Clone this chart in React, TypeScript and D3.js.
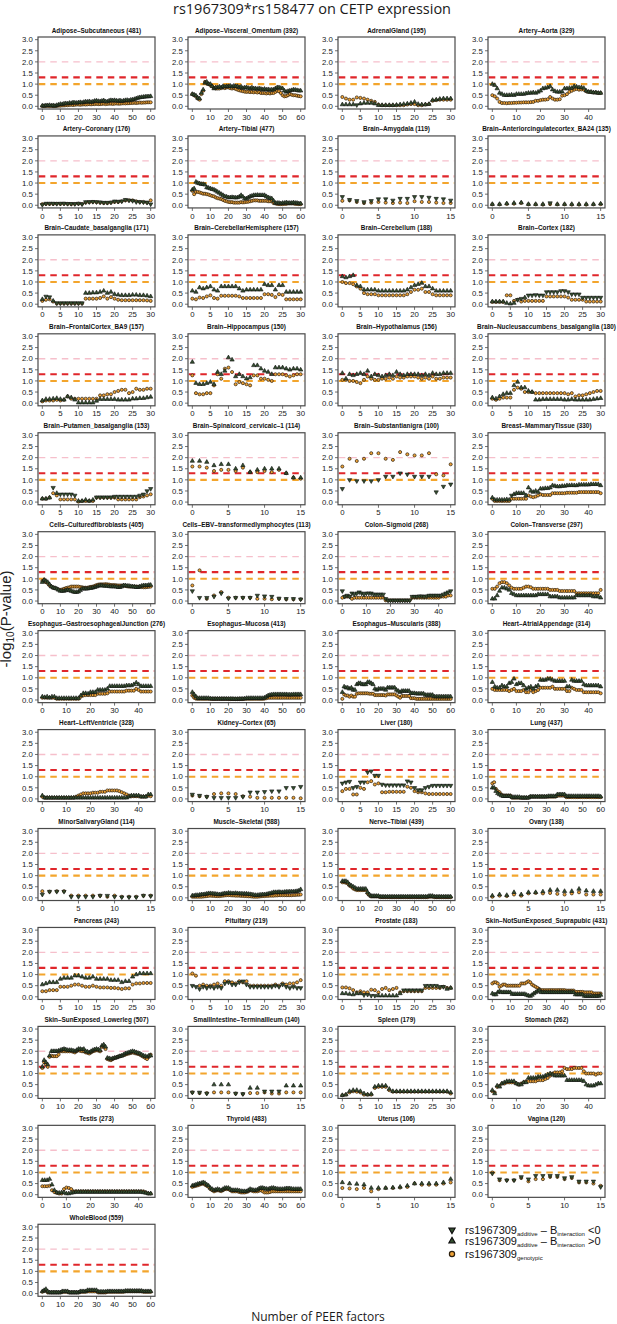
import React from "react";
import * as d3 from "d3";

// -log10(P) values in hundredths. Additive series: the sign gives the sign of B_interaction
// (negative -> downward triangle, positive -> upward triangle); plotted height is |value|.
const tissueNames = [
  "Adipose–Subcutaneous", "Adipose–Visceral_Omentum", "AdrenalGland", "Artery–Aorta",
  "Artery–Coronary", "Artery–Tibial", "Brain–Amygdala", "Brain–Anteriorcingulatecortex_BA24",
  "Brain–Caudate_basalganglia", "Brain–CerebellarHemisphere", "Brain–Cerebellum", "Brain–Cortex",
  "Brain–FrontalCortex_BA9", "Brain–Hippocampus", "Brain–Hypothalamus", "Brain–Nucleusaccumbens_basalganglia",
  "Brain–Putamen_basalganglia", "Brain–Spinalcord_cervicalc–1", "Brain–Substantianigra", "Breast–MammaryTissue",
  "Cells–Culturedfibroblasts", "Cells–EBV–transformedlymphocytes", "Colon–Sigmoid", "Colon–Transverse",
  "Esophagus–GastroesophagealJunction", "Esophagus–Mucosa", "Esophagus–Muscularis", "Heart–AtrialAppendage",
  "Heart–LeftVentricle", "Kidney–Cortex", "Liver", "Lung",
  "MinorSalivaryGland", "Muscle–Skeletal", "Nerve–Tibial", "Ovary",
  "Pancreas", "Pituitary", "Prostate", "Skin–NotSunExposed_Suprapubic",
  "Skin–SunExposed_Lowerleg", "SmallIntestine–TerminalIleum", "Spleen", "Stomach",
  "Testis", "Thyroid", "Uterus", "Vagina",
  "WholeBlood",
];
const sampleSizes = [
  481, 392, 195, 329, 176, 477, 119, 135, 171, 157, 188, 182, 157, 150, 156, 180,
  153, 114, 100, 330, 405, 113, 268, 297, 276, 413, 388, 314, 328, 65, 180, 437,
  114, 588, 439, 138, 243, 219, 183, 431, 507, 140, 179, 262, 273, 483, 106, 120, 559,
];
const peerMax = [
  60, 60, 30, 45, 30, 60, 15, 15, 30, 30, 30, 30, 30, 30, 30, 30,
  30, 15, 15, 45, 60, 15, 45, 45, 45, 60, 60, 45, 45, 15, 30, 60,
  15, 60, 60, 15, 30, 30, 30, 60, 60, 15, 30, 45, 45, 60, 15, 15, 60,
];
const xTicks15 = [0, 5, 10, 15];
const xTicks30 = [0, 5, 10, 15, 20, 25, 30];
const xTicks45 = [0, 10, 20, 30, 40];
const xTicks60 = [0, 10, 20, 30, 40, 50, 60];
const yTickValues = [0, 0.5, 1, 1.5, 2, 2.5, 3];
const yTickLabels = ["0.0", "0.5", "1.0", "1.5", "2.0", "2.5", "3.0"];
const thresholdValues = [2, 1.301, 1];

const adiposeSubcutaneousAdd = [3,2,4,4,5,3,4,2,5,7, 10,9,12,13,12,15,14,17,16,15, 17,18,16,19,21,20,22,19,21,24, 25,23,22,24,26,22,21,25,27,26, 27,25,24,26,23,25,27,28,26,29, 30,32,35,38,40,41,42,43,44,44, 45];
const adiposeSubcutaneousGen = [1,1,2,2,1,2,1,1,2,3, 3,4,4,5,5,6,7,6,7,8, 8,7,8,9,8,9,10,9,10,10, 11,10,10,11,12,10,11,12,12,11, 12,13,12,12,13,14,13,14,14,15, 15,16,15,16,17,16,17,17,18,18, 18];
const adiposeVisceralAdd = [55,52,48,38,35,60,75,105,110,100, 100,90,80,85,85,88,85,90,88,90, 90,92,88,92,90,90,85,88,82,84, 85,82,80,84,80,80,78,80,78,76, 78,75,76,74,75,75,80,85,85,82, 80,70,65,68,70,72,75,74,72,70, 70];
const adiposeVisceralGen = [55,50,45,35,30,55,70,110,105,100, 95,90,82,80,80,80,82,85,82,85, 85,82,80,82,78,75,72,70,68,66, 65,66,64,65,63,65,62,64,60,60, 60,58,60,58,60,60,65,70,68,60, 50,45,46,50,55,52,50,50,48,46, 45];
const adrenalGlandAdd = [8,8,8,8,-6,12,15,15,15,12, 5,5,5,5,5,6,8,10,12,15, 20,10,8,8,10,28,30,33,35,35, 35];
const adrenalGlandGen = [42,35,30,30,40,38,35,30,25,20, 8,5,5,5,5,5,5,5,8,10, 10,5,5,8,10,25,28,30,30,30, 30];
const arteryAortaAdd = [100,95,80,60,55,50,50,50,52,50, 55,55,55,55,58,60,60,62,60,65, 70,80,82,85,90,75,68,65,65,66, 80,80,82,82,90,88,85,85,82,70, 65,65,62,62,60,60];
const arteryAortaGen = [50,45,35,20,15,15,14,15,15,16, 16,17,17,18,18,18,19,20,25,25, 28,30,30,32,42,35,30,30,32,48, 50,55,65,70,75,78,75,76,75,68, 65,64,62,62,60,60];
const arteryCoronaryAdd = [-2,-8,-8,-8,-7,-8,-8,-7,-7,-6, -8,-5,-15,-15,-16,-15,-14,-12,-12,-13, -18,-17,-18,-25,-22,-20,-15,-15,-14,-12, -5];
const arteryCoronaryGen = [5,6,6,6,7,6,7,6,5,6, 7,6,12,14,15,14,12,10,10,12, 15,15,18,22,22,22,18,15,15,12, 22];
const arteryTibialAdd = [70,75,105,100,98,95,95,92,80,78, 75,72,70,65,60,55,50,45,40,38, 35,35,36,35,34,35,38,45,38,30, 30,35,40,42,45,45,46,45,45,45, 45,40,35,32,30,20,10,10,10,8, 10,10,12,10,10,10,12,10,10,8, 8];
const arteryTibialGen = [65,50,60,60,58,55,52,52,50,48, 45,42,40,35,32,30,28,24,20,18, 15,14,14,12,12,12,12,14,13,14, 15,16,18,20,22,22,22,20,20,20, 20,20,18,18,18,10,8,6,5,5, 5,6,6,8,8,8,8,6,6,5, 5];
const brainAmygdalaAdd = [-38,-25,-20,-15,-20,-28,-28,-22,-30,-30, -38,-38,-35,-30,-28,-22];
const brainAmygdalaGen = [20,22,15,10,12,15,12,10,12,10, 18,15,15,12,10,10];
const brainAnteriorCingulateAdd = [5,5,8,10,12,5,5,5,-10,5, 5,5,5,5,5,7];
const brainAnteriorCingulateGen = [4,4,6,7,10,4,4,3,5,4, 4,3,3,3,4,5];
const brainCaudateAdd = [22,-35,-32,15,-5,-5,-5,-5,-5,-5, -5,-5,50,50,52,52,55,60,50,55, 45,42,40,40,40,42,42,40,40,38, 35];
const brainCaudateGen = [15,20,22,12,3,3,3,3,3,3, 3,3,25,25,25,25,28,35,25,32, 25,20,18,18,18,18,18,18,18,17, 15];
const brainCerebellarHemAdd = [60,55,75,70,75,80,65,60,80,80, 80,80,80,70,60,65,65,65,65,65, 90,85,85,65,85,85,55,55,55,55, 55];
const brainCerebellarHemGen = [25,22,30,28,35,40,28,25,38,38, 38,38,38,35,28,28,28,28,28,28, 45,45,42,32,45,42,22,22,22,22, 22];
const brainCerebellumAdd = [125,120,125,130,85,80,65,65,65,65, 60,60,60,60,60,60,60,60,65,75, 85,90,95,80,80,70,60,60,60,60, 60];
const brainCerebellumGen = [100,95,95,90,80,70,50,45,45,45, 40,40,40,40,40,40,40,40,45,55, 65,65,70,55,55,45,40,40,40,40, 40];
const brainCortexAdd = [12,12,12,12,5,2,5,-20,-25,30, -40,-40,-42,-40,-40,-55,-55,-55,-55,-60, -60,-55,-45,-45,-45,-30,-30,-30,-30,-30, -30];
const brainCortexGen = [10,10,10,10,40,40,15,20,12,15, 15,15,15,15,15,35,35,35,35,35, 35,30,20,20,20,20,12,12,12,12, 12];
const brainFrontalCortexAdd = [12,18,18,20,22,18,15,30,25,15, 2,2,2,2,2,10,18,18,18,18, 18,15,15,15,15,20,20,22,22,25, 28];
const brainFrontalCortexGen = [8,12,12,12,15,12,15,30,20,20, 20,20,20,20,20,20,35,35,40,40, 50,55,60,60,45,50,65,60,60,65, 65];
const brainHippocampusAdd = [185,90,85,85,90,95,85,140,130,145, 205,195,120,130,120,110,115,170,170,155, 145,140,130,160,160,160,155,150,155,155, 150];
const brainHippocampusGen = [125,45,40,40,45,45,80,130,110,155, 160,140,85,95,90,85,80,125,125,110, 110,105,100,130,130,130,125,120,125,130, 130];
const brainHypothalamusAdd = [135,110,130,125,130,135,130,145,120,130, 125,120,125,130,125,140,130,125,130,130, 130,130,125,130,125,135,130,130,135,135, 135];
const brainHypothalamusGen = [105,105,100,100,95,90,105,120,110,105, 105,110,110,115,110,120,115,115,120,120, 120,115,110,115,110,120,110,110,115,115, 115];
const brainNucleusAccumbensAdd = [25,20,30,40,45,45,80,95,70,70, 55,50,15,15,18,18,18,18,18,18, 15,15,18,15,15,15,15,15,18,20, 22];
const brainNucleusAccumbensGen = [20,15,20,25,25,25,60,70,65,50, 50,50,45,45,45,45,45,45,45,45, 45,40,45,30,35,35,40,45,50,55, 55];
const brainPutamenAdd = [15,15,20,-65,40,-35,-35,-35,-35,-30, 5,5,10,5,10,-22,-22,-22,-22,-22, -25,-25,-25,-25,-25,-25,-25,-30,-35,-50, -60];
const brainPutamenGen = [15,15,20,40,30,12,12,12,12,12, 2,5,5,5,5,20,20,20,20,20, 20,12,12,12,12,12,12,22,25,30, 35];
const brainSpinalcordAdd = [185,185,180,165,170,170,150,165,135,145, 150,150,150,130,110,110];
const brainSpinalcordGen = [160,160,155,140,145,145,140,155,135,135, 140,135,145,130,110,105];
const brainSubstantianigraAdd = [-60,-100,-95,-95,-95,-100,-115,-115,-130,-125, -115,-115,-115,-45,-70,-80];
const brainSubstantianigraGen = [160,195,185,195,220,220,195,190,225,215, 210,210,220,125,120,170];
const breastMammaryAdd = [20,10,10,10,10,10,12,10,-30,35, 40,40,40,40,30,65,50,45,50,45, 60,60,62,62,65,75,72,70,70,72, 72,75,75,76,75,75,78,78,78,78, 78,80,80,80,80,75];
const breastMammaryGen = [15,5,5,5,5,5,5,5,15,15, 15,15,15,15,15,30,25,22,25,30, 35,32,32,32,32,40,40,40,40,40, 40,42,42,42,42,42,45,45,45,45, 45,45,45,45,45,40];
const cellsFibroblastsAdd = [85,95,90,85,75,65,60,58,55,50, 45,45,45,48,50,48,45,42,40,40, 42,48,55,55,55,55,58,58,60,62, 65,68,70,70,68,68,68,66,65,65, 65,64,62,62,65,70,70,68,68,66, 65,64,62,62,65,68,70,70,70,72, 72];
const cellsFibroblastsGen = [90,95,85,80,70,65,60,58,55,52, 50,52,55,58,60,62,65,65,65,65, 65,63,62,60,60,60,62,64,65,68, 72,74,75,75,75,76,75,74,72,72, 72,71,70,70,70,70,68,66,65,65, 65,65,65,64,64,63,62,62,63,64, 65];
const cellsEBVAdd = [-45,-15,-15,-20,-35,-12,-15,-15,-15,-25, -22,-20,-12,-10,-10,-8];
const cellsEBVGen = [70,138,10,25,40,15,15,15,15,10, 10,8,10,8,8,8];
const colonSigmoidAdd = [-45,-20,-25,-20,-35,-30,-35,-40,-35,-30, -35,-35,-35,-30,-30,-30,-30,-30,-10,-3, -3,-3,-3,-3,-3,-3,-3,-3,-3,-20, -20,-20,-22,-22,-20,-22,-25,-25,-25,-25, -25,-25,-30,-35,-40,-45];
const colonSigmoidGen = [15,20,20,20,10,15,15,15,15,15, 15,15,15,15,15,15,15,15,3,3, 3,3,3,3,3,3,3,3,3,15, 15,15,15,15,15,15,15,15,15,15, 15,20,20,20,25,25];
const colonTransverseAdd = [10,10,25,45,60,60,55,50,35,30, 25,25,25,25,25,25,25,25,25,30, 30,30,30,30,20,20,20,20,15,15, 15,15,15,15,15,25,25,25,25,25, 25,25,20,20,20,15];
const colonTransverseGen = [55,55,65,80,85,85,80,70,60,55, 55,55,55,60,65,65,62,55,55,55, 55,55,55,55,50,50,50,50,45,45, 45,45,45,45,45,35,35,35,35,35, 35,35,35,35,35,50];
const esophagusGEJAdd = [15,12,15,10,15,15,8,8,8,8, 8,8,8,8,8,8,20,30,30,28, 35,35,35,45,45,45,45,50,62,62, 62,62,62,62,62,65,65,65,70,78, 70,62,62,62,62,62];
const esophagusGEJGen = [10,10,10,10,10,10,5,5,5,5, 5,5,5,5,5,5,15,20,22,22, 22,22,22,28,28,28,28,30,38,38, 38,38,38,38,38,42,42,42,42,50, 45,38,38,38,38,38];
const esophagusMucosaAdd = [35,25,15,8,8,8,8,8,8,8, 6,5,5,5,5,5,5,5,5,5, 5,5,5,4,4,4,5,5,5,6, 8,8,8,8,8,8,8,8,8,8, 10,15,20,22,24,25,25,25,25,25, 25,25,25,24,24,24,25,25,25,25, 25];
const esophagusMucosaGen = [20,10,6,5,5,5,5,5,5,5, 5,5,5,5,5,5,5,5,5,5, 4,4,4,4,4,4,4,4,4,5, 5,5,5,5,5,5,5,5,5,5, 6,8,10,10,10,10,10,10,10,10, 10,10,10,10,10,10,10,10,10,10, 10];
const esophagusMuscularisAdd = [35,60,55,55,50,55,45,45,70,75, 75,70,70,70,80,80,75,70,50,45, 50,50,50,50,45,55,55,55,55,55, 45,40,35,40,40,40,40,40,30,30, 30,28,28,28,28,28,22,22,22,22, 22,15,15,15,15,15,15,15,15,15, 15];
const esophagusMuscularisGen = [5,25,20,20,15,20,15,15,28,30, 30,30,30,30,30,28,28,28,22,22, 22,22,22,22,20,25,25,25,25,25, 20,15,10,18,18,18,18,18,8,8, 8,5,5,5,5,5,5,5,5,5, 5,5,5,5,5,5,5,5,5,5, 5];
const heartAtrialAdd = [80,60,55,55,65,60,60,75,80,95, 70,75,75,65,50,55,60,50,60,65, 90,90,90,95,95,90,85,85,85,85, 85,60,60,90,85,85,85,85,70,65, 65,65,65,65,65,60];
const heartAtrialGen = [50,45,45,45,45,45,45,40,45,50, 40,40,40,45,35,35,45,35,40,45, 55,55,55,55,55,60,50,50,50,50, 50,40,40,55,50,45,45,45,35,35, 35,35,35,35,35,30];
const heartLVAdd = [15,5,5,5,5,5,5,5,5,5, 5,5,5,5,5,5,5,5,5,5, 5,5,5,5,5,5,5,5,5,5, 5,5,5,5,5,5,10,15,15,15, 15,10,10,10,20,20];
const heartLVGen = [10,5,5,5,5,5,5,5,5,5, 5,5,5,5,10,15,20,25,25,25, 25,28,28,28,32,32,32,38,38,38, 38,38,35,30,25,20,15,12,12,12, 12,10,10,10,15,12];
const kidneyCortexAdd = [-20,-15,-10,-5,-5,-5,-5,-10,-30,-30, -32,-35,-35,-50,-50,-55];
const kidneyCortexGen = [15,12,10,22,25,25,22,12,10,5, 5,5,5,5,5,3];
const liverAdd = [-70,-75,-78,-50,-55,-75,-75,-120,-125,-105, -105,-65,-62,-62,-62,-62,-62,-62,-80,-75, -50,-40,-40,-50,-55,-60,-60,-60,-60,-60, -60];
const liverGen = [35,45,45,20,20,50,45,75,80,65, 70,30,30,32,32,32,32,32,55,50, 35,30,30,25,22,22,22,22,22,22, 22];
const lungAdd = [50,50,35,25,20,15,12,12,12,12, 12,8,8,8,8,8,5,5,5,5, 5,10,10,10,10,10,10,10,10,10, 10,12,12,12,12,12,20,20,20,20, 20,12,12,12,12,12,12,12,12,12, 12,12,12,12,12,12,12,12,12,12, 10];
const lungGen = [70,75,45,35,30,20,15,15,15,15, 15,5,5,5,5,5,5,5,5,5, 5,10,10,10,10,10,10,10,10,10, 10,10,10,10,10,10,15,15,15,15, 15,8,8,8,8,8,8,8,8,8, 8,8,8,8,8,8,8,8,8,8, 8];
const minorSalivaryAdd = [-15,-28,-28,-28,-5,-5,-5,-5,-10,-10, -5,-3,-3,-3,-10,-8];
const minorSalivaryGen = [30,28,30,30,10,10,10,10,10,5, 10,5,5,5,10,10];
const muscleSkeletalAdd = [10,10,12,12,13,15,15,16,18,20, 20,19,18,17,16,15,16,18,20,20, 22,21,20,20,21,20,19,19,18,18, 18,17,16,15,13,12,12,13,14,15, 15,16,18,20,22,25,25,25,26,25, 25,26,27,27,28,28,28,29,30,32, 38];
const muscleSkeletalGen = [5,5,5,5,5,5,6,7,8,9, 10,9,9,8,8,8,9,10,11,12, 12,12,11,11,10,10,10,9,9,8, 8,7,7,6,5,5,5,6,7,8, 8,9,9,10,10,10,11,11,12,12, 12,12,12,12,12,12,13,13,14,14, 15];
const nerveTibialAdd = [75,75,75,70,60,55,50,45,40,40, 40,40,40,40,25,15,8,8,8,8, 8,5,5,5,5,5,5,5,5,5, 5,5,5,5,5,5,5,5,5,5, 5,5,5,5,5,5,5,5,8,8, 8,5,5,5,5,5,5,5,5,5, 5];
const nerveTibialGen = [70,70,68,65,55,50,42,38,35,35, 35,35,35,35,20,12,6,6,6,6, 6,3,3,3,3,3,3,3,3,3, 3,3,3,3,3,3,3,3,3,3, 3,3,3,3,3,3,3,3,5,5, 5,3,3,3,3,3,3,3,3,3, 3];
const ovaryAdd = [10,15,12,25,15,25,25,28,35,35, 30,30,40,32,30,30];
const ovaryGen = [5,10,8,15,10,20,22,20,22,18, 15,20,25,15,15,15];
const pancreasAdd = [55,60,65,65,65,80,85,85,85,95, 95,90,85,85,90,80,80,80,80,75, 75,75,65,70,70,90,100,105,105,105, 105];
const pancreasGen = [25,25,30,30,30,45,45,45,50,55, 55,50,45,45,50,45,42,42,42,40, 40,38,35,38,38,55,60,60,62,62, 62];
const pituitaryAdd = [-50,-45,-35,-45,-40,-45,-40,-45,-40,-60, -65,-55,-55,-65,-70,-55,-45,-45,-45,-45, -45,-45,-45,-50,-45,-55,-45,-40,-45,-40, -40];
const pituitaryGen = [105,95,50,55,50,50,55,60,50,70, 70,65,60,70,65,70,50,50,50,50, 50,50,50,55,50,60,55,60,60,65, 75];
const prostateAdd = [15,15,12,10,15,15,-8,-10,-5,-5, 5,5,5,5,5,5,15,-30,-30,-30, -30,-30,-30,-50,-50,-50,-50,-45,-45,35, 40];
const prostateGen = [42,42,38,30,20,25,20,20,32,30, 20,35,40,30,35,40,20,25,25,25, 25,25,25,40,40,40,40,40,45,40, 40];
const skinNotSunAdd = [15,10,10,20,25,20,20,20,20,20, 20,12,12,12,12,12,12,12,12,8, 5,3,8,15,20,25,30,20,20,20, 20,20,20,20,20,20,20,20,20,20, 20,20,20,20,20,20,10,10,10,10, 10,3,3,3,3,3,3,3,3,3, 8];
const skinNotSunGen = [60,65,65,60,45,50,55,55,50,50, 50,50,50,50,50,50,60,60,60,65, 70,65,55,50,45,40,35,30,30,30, 30,30,30,30,30,30,30,30,30,30, 30,28,28,28,28,28,22,22,22,22, 22,20,20,20,20,20,15,15,15,15, 15];
const skinSunAdd = [130,160,150,140,180,200,200,200,200,202, 205,208,210,208,205,205,205,203,200,205, 210,210,208,210,200,198,195,200,205,208, 210,208,205,225,230,220,170,168,165,168, 170,172,175,178,180,185,190,192,195,198, 200,198,195,192,190,185,180,178,175,180, 180];
const skinSunGen = [125,150,140,130,175,180,178,178,178,185, 200,200,200,200,200,200,200,198,195,200, 205,202,200,200,195,193,190,195,200,202, 205,203,200,220,220,210,165,162,160,165, 170,172,175,178,180,182,185,188,190,192, 195,192,190,188,185,180,175,170,165,175, 185];
const smallIntestineAdd = [-15,-15,-10,50,50,50,-10,-8,35,35, -20,-20,-20,45,45,45];
const smallIntestineGen = [15,12,12,15,15,15,10,8,12,12, 15,10,10,15,15,15];
const spleenAdd = [2,5,20,25,25,20,10,5,8,40, 45,45,45,30,20,20,20,20,20,20, 20,20,20,20,20,20,20,20,20,20, 15];
const spleenGen = [2,5,15,20,18,15,5,5,5,35, 40,40,40,25,18,18,18,18,18,18, 18,18,18,18,18,18,18,18,18,18, 10];
const stomachAdd = [25,10,45,40,55,60,65,65,65,65, 55,50,50,60,60,80,80,80,80,85, 85,85,90,95,100,95,90,90,90,90, 90,70,70,70,70,70,70,70,65,50, 45,45,45,50,55,55];
const stomachGen = [20,15,40,45,55,55,60,60,60,60, 55,50,55,60,65,65,65,65,65,70, 70,70,75,80,90,100,105,105,105,110, 125,120,120,120,125,125,125,125,110,100, 100,100,100,95,100,100];
const testisAdd = [65,65,65,70,45,20,10,8,10,10, 5,5,8,10,12,12,12,12,12,12, 12,12,12,12,12,12,12,12,12,12, 12,12,12,12,12,12,12,12,12,12, 12,12,10,8,5,5];
const testisGen = [38,38,38,40,20,12,8,5,5,25, 32,30,25,15,15,15,15,15,15,15, 15,15,15,15,15,15,15,15,15,15, 15,15,15,15,15,15,15,15,15,15, 15,15,15,10,5,5];
const thyroidAdd = [40,42,45,48,50,52,55,52,45,40, 30,25,20,22,25,22,20,25,30,30, 30,25,20,20,20,20,18,16,15,15, 15,20,25,22,20,20,22,28,30,30, 28,26,25,28,30,30,28,26,25,25, 25,26,28,28,28,26,25,25,25,25, 25];
const thyroidGen = [35,38,40,42,45,48,50,45,40,35, 25,20,15,18,20,18,16,20,25,25, 25,20,15,15,15,15,12,10,10,10, 12,15,20,18,15,15,15,18,20,15, 10,10,10,12,15,15,15,15,15,15, 15,15,15,15,15,15,15,15,15,15, 15];
const uterusAdd = [55,50,48,45,30,30,30,32,35,40, 50,50,50,50,55,70];
const uterusGen = [30,28,25,30,15,25,30,30,32,35, 50,45,45,45,50,55];
const vaginaAdd = [-95,-70,-65,-65,-80,-70,-85,-85,-85,-85, -75,-80,-60,-60,-60,-35];
const vaginaGen = [100,65,65,65,75,60,70,70,80,80, 70,75,55,55,50,40];
const wholeBloodAdd = [10,15,20,10,5,5,5,5,5,5, 5,10,10,10,10,5,5,5,5,5, 5,10,10,10,10,15,15,15,15,15, 15,8,8,8,8,8,10,10,10,10, 10,10,10,10,10,10,12,12,12,12, 12,12,12,12,12,12,10,10,10,10, 10];
const wholeBloodGen = [8,12,15,5,5,5,5,5,5,5, 5,8,8,8,8,5,5,5,5,5, 5,8,8,8,8,10,10,10,10,10, 10,5,5,5,5,5,8,8,8,8, 8,8,8,8,8,8,10,10,10,10, 10,10,10,10,10,10,8,8,8,8, 8];

const additiveSeries = [
  adiposeSubcutaneousAdd, adiposeVisceralAdd, adrenalGlandAdd, arteryAortaAdd,
  arteryCoronaryAdd, arteryTibialAdd, brainAmygdalaAdd, brainAnteriorCingulateAdd,
  brainCaudateAdd, brainCerebellarHemAdd, brainCerebellumAdd, brainCortexAdd,
  brainFrontalCortexAdd, brainHippocampusAdd, brainHypothalamusAdd, brainNucleusAccumbensAdd,
  brainPutamenAdd, brainSpinalcordAdd, brainSubstantianigraAdd, breastMammaryAdd,
  cellsFibroblastsAdd, cellsEBVAdd, colonSigmoidAdd, colonTransverseAdd,
  esophagusGEJAdd, esophagusMucosaAdd, esophagusMuscularisAdd, heartAtrialAdd,
  heartLVAdd, kidneyCortexAdd, liverAdd, lungAdd,
  minorSalivaryAdd, muscleSkeletalAdd, nerveTibialAdd, ovaryAdd,
  pancreasAdd, pituitaryAdd, prostateAdd, skinNotSunAdd,
  skinSunAdd, smallIntestineAdd, spleenAdd, stomachAdd,
  testisAdd, thyroidAdd, uterusAdd, vaginaAdd,
  wholeBloodAdd,
];
const genotypicSeries = [
  adiposeSubcutaneousGen, adiposeVisceralGen, adrenalGlandGen, arteryAortaGen,
  arteryCoronaryGen, arteryTibialGen, brainAmygdalaGen, brainAnteriorCingulateGen,
  brainCaudateGen, brainCerebellarHemGen, brainCerebellumGen, brainCortexGen,
  brainFrontalCortexGen, brainHippocampusGen, brainHypothalamusGen, brainNucleusAccumbensGen,
  brainPutamenGen, brainSpinalcordGen, brainSubstantianigraGen, breastMammaryGen,
  cellsFibroblastsGen, cellsEBVGen, colonSigmoidGen, colonTransverseGen,
  esophagusGEJGen, esophagusMucosaGen, esophagusMuscularisGen, heartAtrialGen,
  heartLVGen, kidneyCortexGen, liverGen, lungGen,
  minorSalivaryGen, muscleSkeletalGen, nerveTibialGen, ovaryGen,
  pancreasGen, pituitaryGen, prostateGen, skinNotSunGen,
  skinSunGen, smallIntestineGen, spleenGen, stomachGen,
  testisGen, thyroidGen, uterusGen, vaginaGen,
  wholeBloodGen,
];

const FONT = "'Liberation Sans', Arial, Helvetica, sans-serif";
const BOX_W = 117;
const BOX_H = 72;
const COL_X0 = 38;
const COL_STEP = 150;
const ROW_Y0 = 37;
const ROW_STEP = 98.94;
const thresholdStyles = [
  { color: "#f6bfcb", width: 1.4 },
  { color: "#e0262b", width: 2.1 },
  { color: "#f3a52c", width: 2.1 },
];
const TRI_FILL = "#34502f";
const TRI_STROKE = "#0d0d0d";
const CIRC_FILL = "#eea236";
const CIRC_STROKE = "#2a1d0c";

const triPath = d3.symbol(d3.symbolTriangle, 8)() as string;

function ticksFor(max: number) {
  if (max === 15) return xTicks15;
  if (max === 30) return xTicks30;
  if (max === 45) return xTicks45;
  return xTicks60;
}

function Panel({ idx }: { idx: number }) {
  const col = idx % 4;
  const row = Math.floor(idx / 4);
  const left = COL_X0 + col * COL_STEP;
  const top = ROW_Y0 + row * ROW_STEP;
  const max = peerMax[idx];
  const x = d3.scaleLinear().domain([-0.04 * max, 1.04 * max]).range([0, BOX_W]);
  const y = d3.scaleLinear().domain([-0.12, 3.12]).range([BOX_H, 0]);
  const add = additiveSeries[idx];
  const gen = genotypicSeries[idx];
  return (
    <g transform={`translate(${left},${top})`}>
      <rect width={BOX_W} height={BOX_H} fill="#fff" />
      {thresholdValues.map((t, i) => (
        <line
          key={"t" + i}
          x1={0.8}
          x2={BOX_W - 0.8}
          y1={y(t)}
          y2={y(t)}
          stroke={thresholdStyles[i].color}
          strokeWidth={thresholdStyles[i].width}
          strokeDasharray="6.5,5"
        />
      ))}
      {gen.map((v, i) => (
        <circle
          key={"g" + i}
          cx={x(i)}
          cy={y(v / 100)}
          r={1.55}
          fill={CIRC_FILL}
          stroke={CIRC_STROKE}
          strokeWidth={0.7}
        />
      ))}
      {add.map((v, i) => (
        <path
          key={"a" + i}
          d={triPath}
          transform={`translate(${x(i)},${y(Math.abs(v) / 100)})${v < 0 ? " rotate(180)" : ""}`}
          fill={TRI_FILL}
          stroke={TRI_STROKE}
          strokeWidth={0.6}
        />
      ))}
      <rect width={BOX_W} height={BOX_H} fill="none" stroke="#4a4a4a" strokeWidth={1.2} />
      {yTickValues.map((t, i) => (
        <g key={"y" + i} transform={`translate(0,${y(t)})`}>
          <line x1={-3} x2={0} stroke="#4a4a4a" strokeWidth={0.8} />
          <text x={-5.2} dy="0.35em" textAnchor="end" fontSize={7.8} fill="#222">
            {yTickLabels[i]}
          </text>
        </g>
      ))}
      {ticksFor(max).map((t) => (
        <g key={"x" + t} transform={`translate(${x(t)},${BOX_H})`}>
          <line y1={0} y2={3} stroke="#4a4a4a" strokeWidth={0.8} />
          <text y={10.6} textAnchor="middle" fontSize={7.8} fill="#222">
            {t}
          </text>
        </g>
      ))}
      <text x={BOX_W / 2} y={-4.5} textAnchor="middle" fontSize={6.4} fontWeight="bold" fill="#111">
        {`${tissueNames[idx]} (${sampleSizes[idx]})`}
      </text>
    </g>
  );
}

function Legend() {
  const lx = 452;
  const tx = 465;
  const rows = [1230, 1241, 1254];
  const main = 11;
  const sub = 6;
  return (
    <g fontFamily={FONT} fill="#111">
      <path d={triPath} transform={`translate(${lx},${rows[0]}) rotate(180) scale(1.45)`} fill={TRI_FILL} stroke={TRI_STROKE} strokeWidth={0.8} />
      <path d={triPath} transform={`translate(${lx},${rows[1]}) scale(1.45)`} fill={TRI_FILL} stroke={TRI_STROKE} strokeWidth={0.8} />
      <circle cx={lx} cy={rows[2]} r={2.6} fill={CIRC_FILL} stroke={CIRC_STROKE} strokeWidth={1.2} />
      <text x={tx} y={rows[0] + 3.8} fontSize={main}>
        rs1967309<tspan fontSize={sub} dy={2}>additive</tspan>
        <tspan dy={-2}> – B</tspan><tspan fontSize={sub} dy={2}>interaction</tspan>
        <tspan dy={-2}> &lt;0</tspan>
      </text>
      <text x={tx} y={rows[1] + 3.8} fontSize={main}>
        rs1967309<tspan fontSize={sub} dy={2}>additive</tspan>
        <tspan dy={-2}> – B</tspan><tspan fontSize={sub} dy={2}>interaction</tspan>
        <tspan dy={-2}> &gt;0</tspan>
      </text>
      <text x={tx} y={rows[2] + 3.8} fontSize={main}>
        rs1967309<tspan fontSize={sub} dy={2}>genotypic</tspan>
      </text>
    </g>
  );
}

export default function App() {
  return (
    <svg
      width={617}
      height={1324}
      style={{ position: "absolute", left: 0, top: 0, background: "#fff" }}
      fontFamily={FONT}
    >
      <rect width={617} height={1324} fill="#fff" />
      <text x={312} y={13.5} textAnchor="middle" fontSize={14.5} fontFamily="'Open Sans', 'Noto Sans', sans-serif" fill="#1a1a1a">
        rs1967309*rs158477 on CETP expression
      </text>
      {tissueNames.map((_, i) => (
        <Panel key={i} idx={i} />
      ))}
      <Legend />
      <text
        transform="translate(11,619) rotate(-90)"
        textAnchor="middle"
        fontSize={15}
        fill="#222"
      >
        -log<tspan fontSize={10} dy={3}>10</tspan><tspan dy={-3}>(P-value)</tspan>
      </text>
      <text x={318} y={1321} textAnchor="middle" fontSize={12} fontFamily="'Open Sans', 'Noto Sans', sans-serif" fill="#1a1a1a">
        Number of PEER factors
      </text>
    </svg>
  );
}
